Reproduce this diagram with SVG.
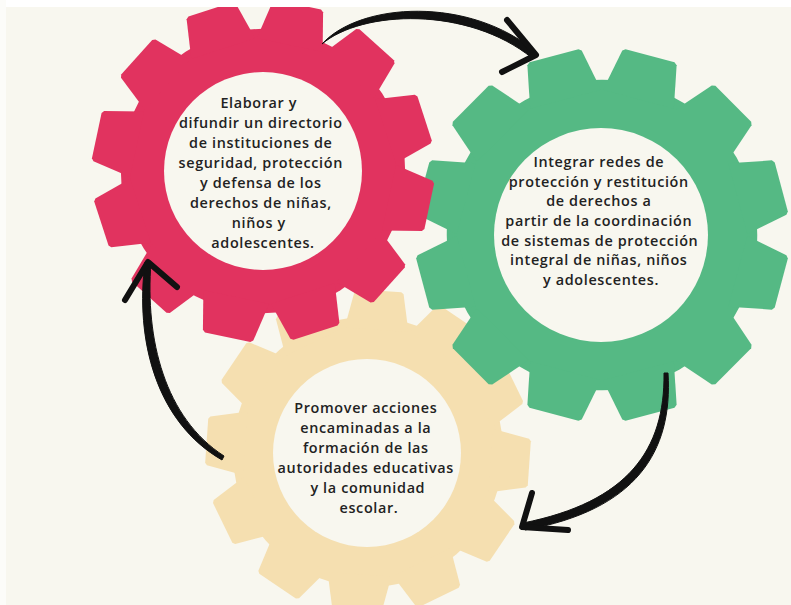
<svg xmlns="http://www.w3.org/2000/svg" xmlns:xlink="http://www.w3.org/1999/xlink" width="791" height="605" viewBox="0 0 791 605">
<style>
.lbl{font-family:"Open Sans","Liberation Sans",sans-serif;font-weight:600;font-size:14.4px;letter-spacing:0.65px;fill:#222;text-anchor:middle}
.hole{fill:#f8f7ef}
.ink{fill:#111;stroke:#111;stroke-width:1;stroke-linejoin:round}
.head{fill:none;stroke:#111;stroke-width:6;stroke-linecap:round;stroke-linejoin:round}
</style>
<defs>
<polygon id="tooth" points="-32.6,-125 -25,-163 -22.5,-165 22.5,-165 25,-163 32.6,-125"/>
<g id="gear">
<circle r="138"/>
<use href="#tooth"/>
<use href="#tooth" transform="rotate(30)"/>
<use href="#tooth" transform="rotate(60)"/>
<use href="#tooth" transform="rotate(90)"/>
<use href="#tooth" transform="rotate(120)"/>
<use href="#tooth" transform="rotate(150)"/>
<use href="#tooth" transform="rotate(180)"/>
<use href="#tooth" transform="rotate(210)"/>
<use href="#tooth" transform="rotate(240)"/>
<use href="#tooth" transform="rotate(270)"/>
<use href="#tooth" transform="rotate(300)"/>
<use href="#tooth" transform="rotate(330)"/>
</g>
</defs>
<rect width="791" height="605" fill="#f8f7ef"/>

<g id="node-yellow">
<use href="#gear" fill="#f5dfb0" transform="translate(368,452) rotate(4) scale(0.98)"/>
<circle class="hole" cx="367" cy="453" r="94"/>
<text class="lbl">
<tspan x="368" y="413">Promover acciones</tspan>
<tspan x="368" y="433">encaminadas a la</tspan>
<tspan x="368" y="453">formación de las</tspan>
<tspan x="368" y="473">autoridades educativas</tspan>
<tspan x="370" y="493">y la comunidad</tspan>
<tspan x="369" y="513">escolar.</tspan>
</text>
</g>

<g id="node-green">
<use href="#gear" fill="#55b984" transform="translate(602,235) rotate(15) scale(1.125)"/>
<circle class="hole" cx="601" cy="235" r="107"/>
<text class="lbl">
<tspan x="601" y="167">Integrar redes de</tspan>
<tspan x="601" y="186.7">protección y restitución</tspan>
<tspan x="601" y="206.3">de derechos a</tspan>
<tspan x="601" y="226">partir de la coordinación</tspan>
<tspan x="602" y="245.7">de sistemas de protección</tspan>
<tspan x="601" y="265.3">integral de niñas, niños</tspan>
<tspan x="601" y="285">y adolescentes.</tspan>
</text>
</g>

<g id="node-red">
<use href="#gear" fill="#e1335f" transform="translate(263,171) rotate(12) scale(1.03)"/>
<circle class="hole" cx="263" cy="171" r="99"/>
<text class="lbl">
<tspan x="261" y="108">Elaborar y</tspan>
<tspan x="263" y="128">difundir un directorio</tspan>
<tspan x="263" y="148">de instituciones de</tspan>
<tspan x="263" y="168">seguridad, protección</tspan>
<tspan x="263" y="188">y defensa de los</tspan>
<tspan x="263" y="208">derechos de niñas,</tspan>
<tspan x="261" y="228">niños y</tspan>
<tspan x="263" y="248">adolescentes.</tspan>
</text>
</g>

<rect width="791" height="7" fill="#ffffff"/>
<rect width="6" height="605" fill="#fcfcf9"/>

<g id="connectors">
<path class="ink" d="M322,44 C360,2 470,-4 536,52 L532,58 C468,6 362,10 322,44 Z"/>
<path class="head" d="M507,20 L536,55 L502,72"/>
<path class="ink" d="M664,373 C665,450 628,502 523,523 L525,530 C636,510 673,452 668,373 Z"/>
<path class="head" d="M532,493 L522,527 L568,530"/>
<path class="ink" d="M222,460 C156,422 135,340 145,262 L151,262 C145,340 165,418 224,456 Z"/>
<path class="head" d="M125,300 L148,262 L177,287"/>
</g>
</svg>
